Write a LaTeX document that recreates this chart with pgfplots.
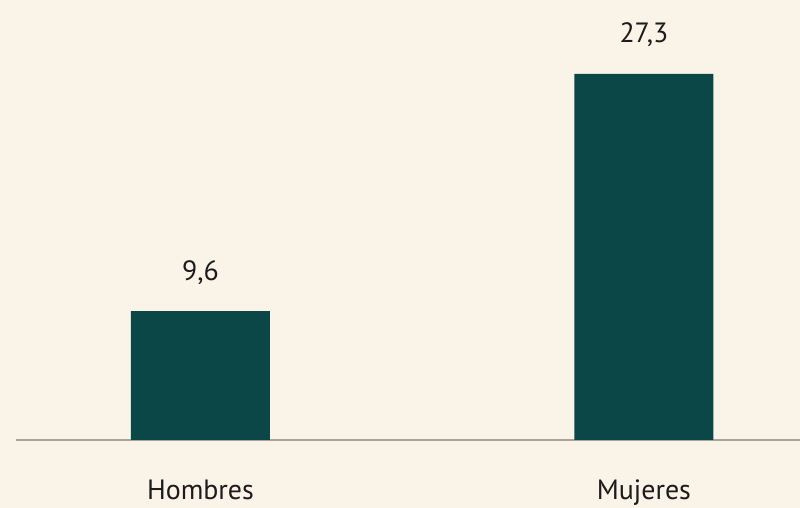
\documentclass[border=0pt]{standalone}
\usepackage{pgfplots}
\pgfplotsset{compat=1.18}
\usepackage{fontspec}
\setmainfont{PT Sans}
\definecolor{bg}{HTML}{FAF4E8}
\definecolor{bar}{HTML}{0B4746}
\definecolor{base}{HTML}{A9A49B}
\definecolor{txt}{HTML}{1C1C1C}
\begin{document}
\begin{tikzpicture}[x=1bp,y=1bp]
\fill[bg] (0,0) rectangle (800,508);
\begin{axis}[
  at={(16bp,68bp)}, anchor=south west,
  scale only axis, width=784bp, height=440bp,
  xmin=-0.416, xmax=1.352, ymin=0, ymax=32.8,
  axis y line=none, axis x line=none,
  ytick=\empty, xtick=\empty,
  clip=false,
  ybar, bar width=139bp,
  nodes near coords,
  point meta=explicit symbolic,
  every node near coord/.style={anchor=base, yshift=31bp, inner sep=0pt, font=\fontsize{28}{33}\selectfont, text=txt},
]
\draw[base, line width=1.6bp] (axis cs:-0.416,0) -- (axis cs:1.352,0);
\addplot[fill=bar, draw=none] coordinates {(0,9.6) [9,6] (1,27.3) [27,3]};
\node[anchor=base, text=txt, font=\fontsize{28}{33}\selectfont] at (axis cs:0,0) [yshift=-60bp] {Hombres};
\node[anchor=base, text=txt, font=\fontsize{28}{33}\selectfont] at (axis cs:1,0) [yshift=-60bp] {Mujeres};
\end{axis}
\pgfresetboundingbox
\path (0,0) rectangle (800,508);
\end{tikzpicture}
\end{document}
